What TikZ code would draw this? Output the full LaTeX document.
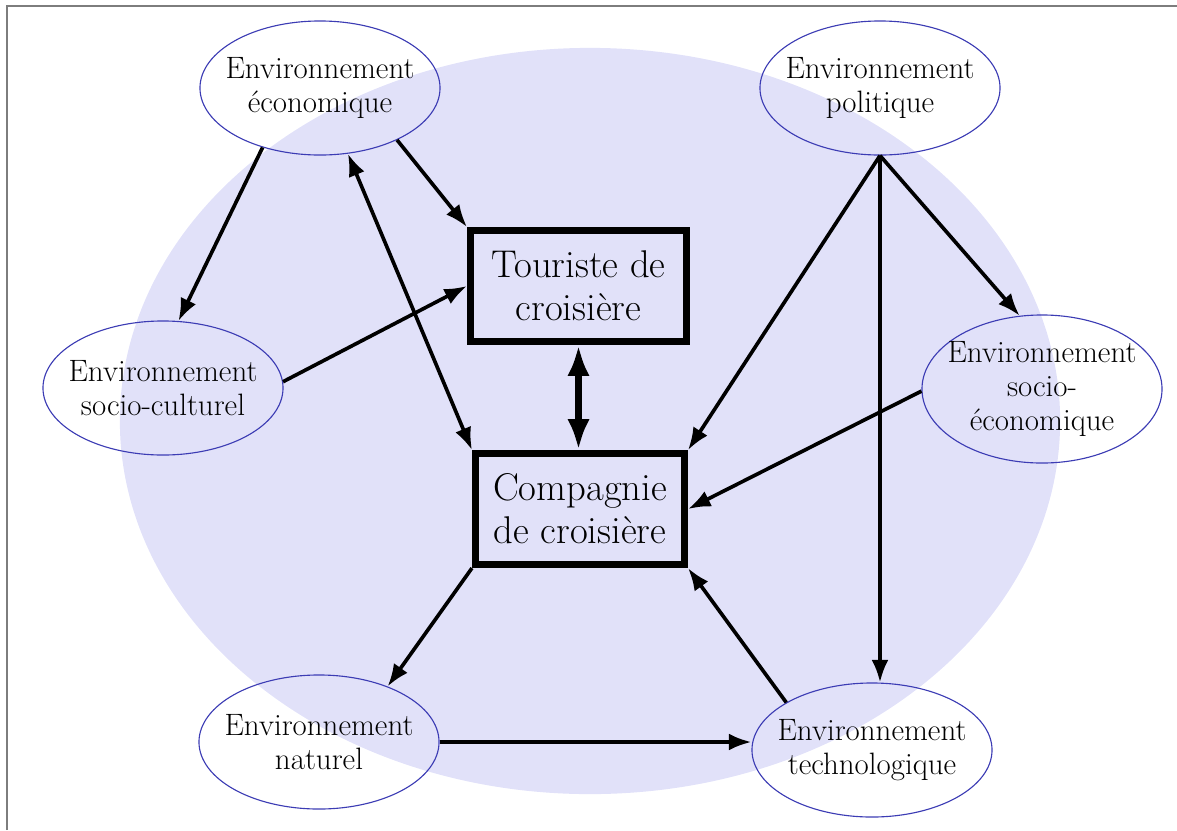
\documentclass[tikz,border=0pt]{standalone}
\usepackage{fontspec}
\usepackage{tikz}
\usetikzlibrary{shapes.geometric,arrows.meta,positioning}
\definecolor{Lavande}{RGB}{225,225,249}
\definecolor{Contour}{RGB}{60,60,180}
\definecolor{Cadre}{RGB}{125,125,125}
\pgfdeclarelayer{background}
\pgfsetlayers{background,main}

\begin{document}
\begin{tikzpicture}[
            x=0.025cm, y=-0.025cm,
            every node/.style={on grid},
            env/.style={ellipse,draw=Contour,line width=0.8pt,inner xsep=-25pt,inner ysep=0pt,
                minimum width=6cm,minimum height=3.35cm,align=center,font=\fontsize{22}{24.5}\selectfont},
            acteur/.style={rectangle,draw,line width=5pt,inner sep=0pt,minimum height=2.775cm,
                align=center,font=\fontsize{27.5}{30.5}\selectfont},
            lien/.style={line width=2.6pt},
            fort/.style={line width=5pt,>={Latex[length=22pt,width=16pt]}},
            >={Latex[length=16pt,width=12pt]}
        ]
        \useasboundingbox (0,0) rectangle (1177,830);

        % Draw actors %
        \node[acteur,minimum width=5.4cm] (tour) at (578.5,286) {Touriste de\\croisière};
        \node[acteur,minimum width=5.225cm,below=5.575cm of tour,xshift=1.5*0.025cm] (comp) {Compagnie\\de croisière};

        % Draw environments %
        \node[env] (eco) at (320,88) {Environnement\\économique};
        \node[env] (pol) at (880,88) {Environnement\\politique};
        \node[env] (socul) at (163,388) {Environnement\\socio-culturel};
        \node[env,minimum height=3.7cm] (soceco) at (1042,389) {Environnement\\socio-\\économique};
        \node[env] (nat) at (319,742) {Environnement\\naturel};
        \node[env] (tech) at (872,750) {Environnement\\technologique};

        % Draw arrows %
        \draw[lien,->] (eco.226) -- (socul.77);
        \draw[lien,->] (eco.326) -- (tour.north west);
        \draw[lien,<->] (eco.293) -- (comp.north west);
        \draw[lien,->] (socul.3) -- (tour.west);
        \draw[fort,<->] (tour.south) -- (tour.south |- comp.north);
        \draw[lien,->] (pol.south) -- (comp.north east);
        \draw[lien,->] (pol.south) -- (soceco.107);
        \draw[lien,->] (pol.south) -- (pol.south |- tech.north);
        \draw[lien,->] (soceco.181) -- (comp.east);
        \draw[lien,->] (comp.south west) -- (nat.39);
        \draw[lien,->] (nat.east) -- (nat.east -| tech.west);
        \draw[lien,->] (tech.151) -- (comp.south east);

        % Draw background %
        \begin{pgfonlayer}{background}
            \fill[Lavande] (590,421) ellipse [x radius=11.75cm, y radius=9.325cm];
            \draw[Cadre,line width=1.5pt] (7,830) -- (7,6) -- (1177,6);
        \end{pgfonlayer}
        \end{tikzpicture}
\end{document}
